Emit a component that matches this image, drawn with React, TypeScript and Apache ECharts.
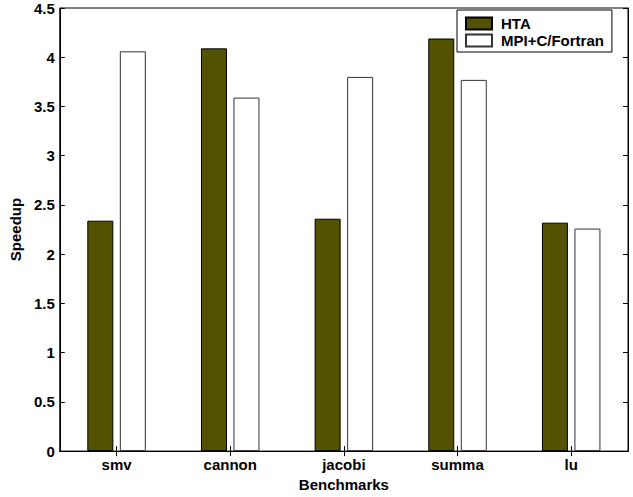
import React, { useEffect, useRef } from "react";
import * as echarts from "echarts";

const categories = ["smv", "cannon", "jacobi", "summa", "lu"];
const htaValues = [2.34, 4.09, 2.36, 4.19, 2.32];
const mpiValues = [4.06, 3.59, 3.8, 3.77, 2.26];
const seriesNames = ["HTA", "MPI+C/Fortran"];

const FONT = "'Liberation Sans', Arial, Helvetica, sans-serif";

export default function App() {
  const ref = useRef<HTMLDivElement>(null);
  useEffect(() => {
    if (!ref.current) return;
    const chart = echarts.init(ref.current, null, { renderer: "svg" });
    const textStyle = { fontFamily: FONT, fontWeight: "bold" as const, fontSize: 15, color: "#000" };
    chart.setOption({
      animation: false,
      backgroundColor: "#fff",
      textStyle: { fontFamily: FONT },
      grid: {
        left: 58,
        right: 5,
        top: 8,
        bottom: 39,
        show: true,
        borderColor: "#000",
        borderWidth: 1,
        containLabel: false,
      },
      legend: {
        orient: "vertical",
        left: 457,
        top: 10,
        padding: [6, 8, 4, 8],
        itemGap: 2,
        itemWidth: 26,
        itemHeight: 12,
        icon: "rect",
        borderColor: "#000",
        borderWidth: 1,
        borderRadius: 0,
        backgroundColor: "#fff",
        textStyle: { ...textStyle, lineHeight: 15, padding: [0, 0, 0, 4] },
        data: seriesNames,
      },
      xAxis: [
        {
          type: "category",
          data: categories,
          name: "Benchmarks",
          nameLocation: "middle",
          nameGap: 23,
          nameTextStyle: textStyle,
          axisLine: { show: true, lineStyle: { color: "#000", width: 1 } },
          axisTick: { show: true, inside: true, length: 5, alignWithLabel: true, lineStyle: { color: "#000" } },
          axisLabel: { ...textStyle, margin: 6 },
          splitLine: { show: false },
        },
        {
          type: "category",
          data: categories,
          position: "top",
          axisLine: { show: true, lineStyle: { color: "#000", width: 1 } },
          axisTick: { show: true, inside: true, length: 5, alignWithLabel: true, lineStyle: { color: "#000" } },
          axisLabel: { show: false },
        },
      ],
      yAxis: [
        {
          type: "value",
          min: 0,
          max: 4.5,
          interval: 0.5,
          name: "Speedup",
          nameLocation: "middle",
          nameGap: 31,
          nameTextStyle: textStyle,
          axisLine: { show: true, lineStyle: { color: "#000", width: 1 } },
          axisTick: { show: true, inside: true, length: 5, lineStyle: { color: "#000" } },
          axisLabel: { ...textStyle, margin: 5 },
          splitLine: { show: false },
        },
        {
          type: "value",
          min: 0,
          max: 4.5,
          interval: 0.5,
          position: "right",
          axisLine: { show: true, lineStyle: { color: "#000", width: 1 } },
          axisTick: { show: true, inside: true, length: 5, lineStyle: { color: "#000" } },
          axisLabel: { show: false },
          splitLine: { show: false },
        },
      ],
      series: [
        {
          name: seriesNames[0],
          type: "bar",
          data: htaValues,
          barWidth: 26,
          barGap: "25%",
          itemStyle: { color: "#525200", borderColor: "#000", borderWidth: 1 },
        },
        {
          name: seriesNames[1],
          type: "bar",
          data: mpiValues,
          barWidth: 26,
          barGap: "25%",
          itemStyle: { color: "#fff", borderColor: "#333", borderWidth: 1 },
        },
      ],
    });
    return () => chart.dispose();
  }, []);
  return <div ref={ref} style={{ width: 633, height: 497, position: "absolute", left: 0, top: 0 }} />;
}
